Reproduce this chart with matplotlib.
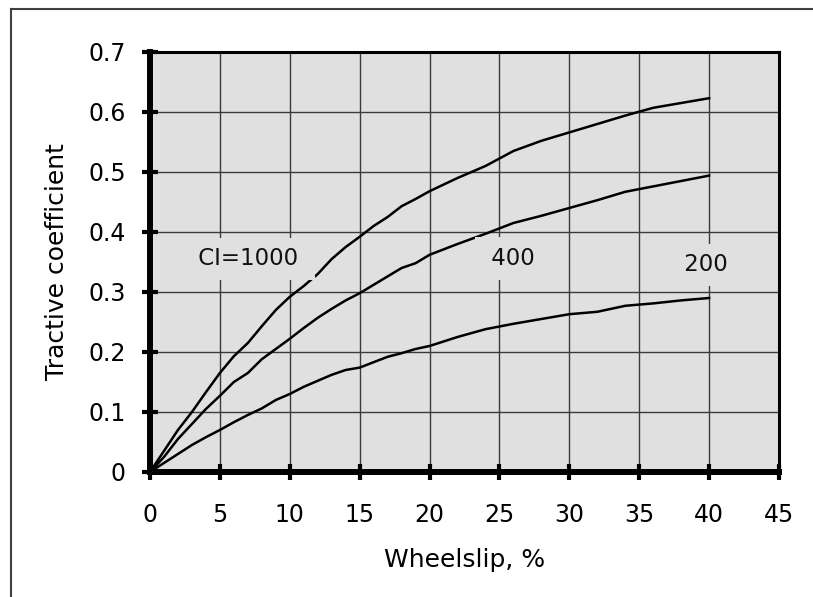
import matplotlib
matplotlib.use("Agg")
import matplotlib.pyplot as plt
from matplotlib.lines import Line2D

# --- data ---
slip = [0, 1, 2, 3, 4, 5, 6, 7, 8, 9, 10, 11, 12, 13, 14, 15, 16, 17, 18, 19,
        20, 22, 24, 26, 28, 30, 32, 34, 36, 38, 40]
ci1000 = [0, 0.035, 0.07, 0.10, 0.133, 0.165, 0.193, 0.215, 0.243, 0.27,
          0.292, 0.31, 0.33, 0.355, 0.375, 0.392, 0.41, 0.425, 0.443, 0.455,
          0.468, 0.49, 0.51, 0.535, 0.552, 0.566, 0.58, 0.594, 0.607, 0.615,
          0.623]
ci400 = [0, 0.025, 0.055, 0.08, 0.105, 0.127, 0.15, 0.165, 0.188, 0.205,
         0.222, 0.24, 0.257, 0.272, 0.286, 0.298, 0.312, 0.326, 0.34, 0.348,
         0.362, 0.38, 0.397, 0.415, 0.427, 0.44, 0.453, 0.467, 0.476, 0.485,
         0.494]
ci200 = [0, 0.015, 0.03, 0.045, 0.058, 0.07, 0.083, 0.095, 0.106, 0.12,
         0.13, 0.142, 0.152, 0.162, 0.17, 0.174, 0.183, 0.192, 0.198, 0.205,
         0.21, 0.225, 0.238, 0.247, 0.255, 0.263, 0.267, 0.277, 0.281, 0.286,
         0.29]
labels = ["CI=1000", "400", "200"]
label_pos = [(7.0, 0.355), (26.0, 0.356), (39.8, 0.345)]
xticks = [0, 5, 10, 15, 20, 25, 30, 35, 40, 45]
yticks = [0, 0.1, 0.2, 0.3, 0.4, 0.5, 0.6, 0.7]
ytick_labels = ["0", "0.1", "0.2", "0.3", "0.4", "0.5", "0.6", "0.7"]

plt.rcParams["font.family"] = "DejaVu Sans"
bg = "#e0e0e0"

fig = plt.figure(figsize=(8.13, 5.97), dpi=100)
ax = fig.add_axes([0.1845, 0.2094, 0.7737, 0.7035])
ax.set_facecolor(bg)

for ys in (ci1000, ci400, ci200):
    ax.plot(slip, ys, color="black", linewidth=1.8, zorder=3)

# labels sit on boxes of the plot colour, which cut the grid and curves
for txt, (x, y) in zip(labels, label_pos):
    ax.text(x, y, " " + txt + " ", fontsize=16.5, ha="center", va="center",
            zorder=5, color="#111111",
            bbox=dict(boxstyle="square,pad=0.42", facecolor=bg,
                      edgecolor="none"))

ax.set_xlim(0, 45)
ax.set_ylim(0, 0.7)
ax.set_xticks(xticks)
ax.set_yticks(yticks)
ax.set_yticklabels(ytick_labels)
ax.grid(True, color="#3a3a3a", linewidth=1.0, zorder=1)
ax.set_axisbelow(True)

ax.tick_params(direction="inout", length=11, width=3, labelsize=17,
               colors="black")
ax.tick_params(axis="y", pad=12)
ax.tick_params(axis="x", pad=17)

for side, lw in (("left", 4.3), ("bottom", 4.3), ("top", 2.2), ("right", 2.2)):
    ax.spines[side].set_linewidth(lw)
    ax.spines[side].set_color("black")

ax.set_xlabel("Wheelslip, %", fontsize=18)
ax.set_ylabel("Tractive coefficient", fontsize=18)
ax.xaxis.set_label_coords(0.5, -0.18)
ax.yaxis.set_label_coords(-0.128, 0.5)

# outer frame (only left and top edges visible in the reference)
fx, fy = 11 / 813, 1 - 9 / 597
fig.add_artist(Line2D([fx, fx], [0, fy], transform=fig.transFigure,
                      color="#404040", linewidth=1.5))
fig.add_artist(Line2D([fx, 1], [fy, fy], transform=fig.transFigure,
                      color="#404040", linewidth=1.5))

fig.savefig("out.png", dpi=100)
